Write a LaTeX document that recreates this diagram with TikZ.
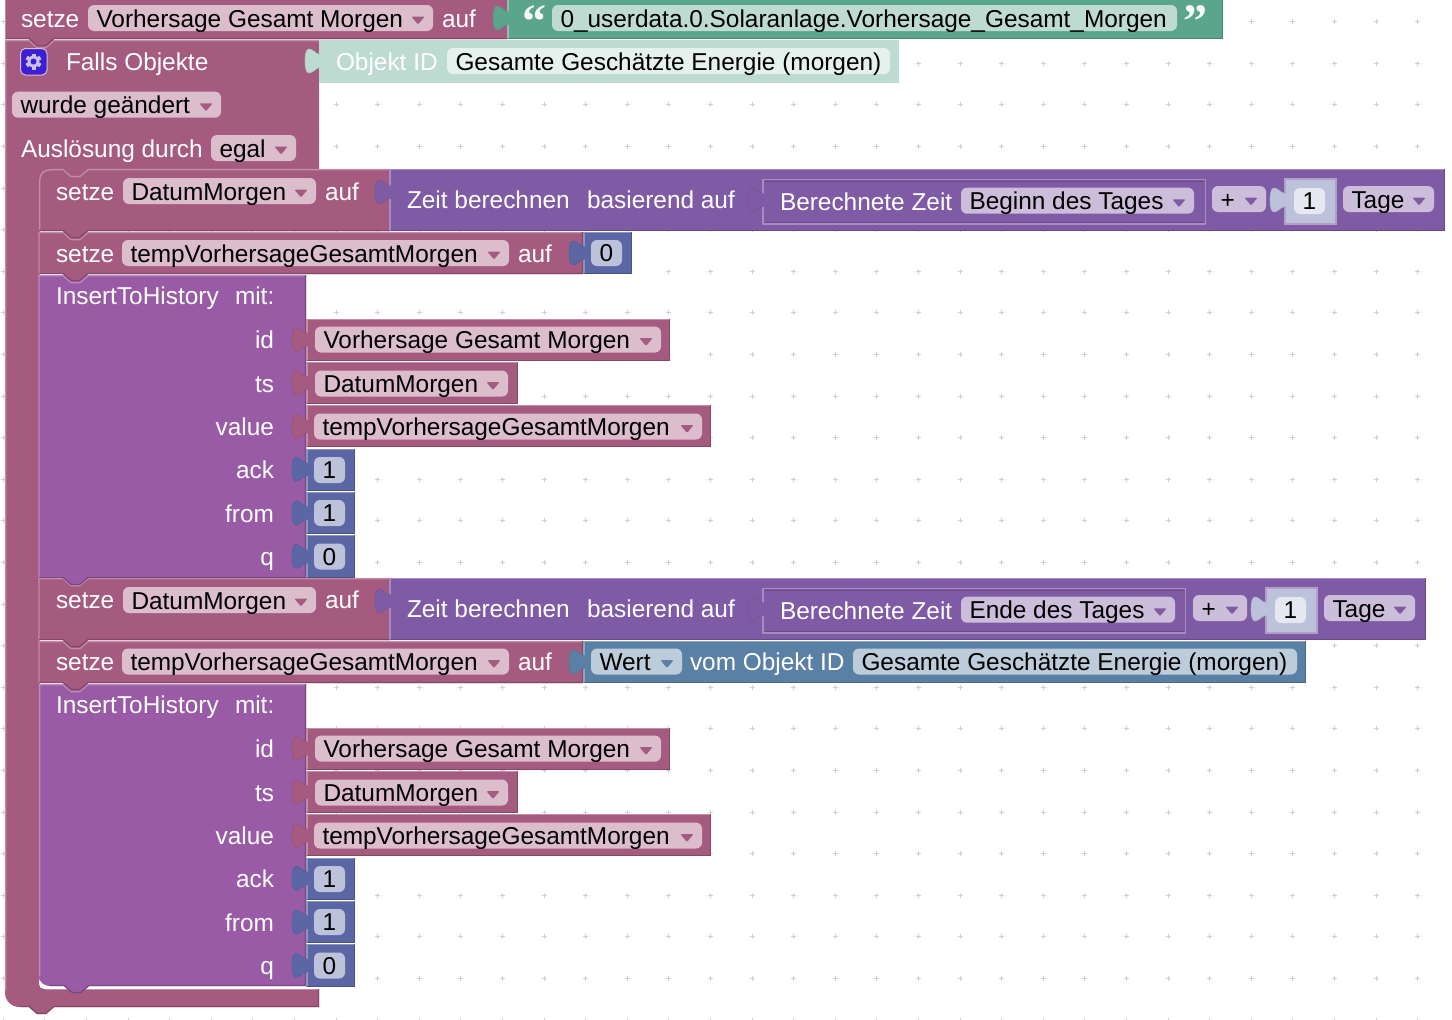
\documentclass[tikz,border=0pt]{standalone}
\usepackage{fontspec}
\setmainfont{Liberation Sans}
\newfontfamily\quotefont{Liberation Serif}
\definecolor{mar}{HTML}{A55B80}\definecolor{marL}{HTML}{DBBDCC}
\definecolor{proc}{HTML}{995BA5}
\definecolor{tim}{HTML}{805BA5}\definecolor{timL}{HTML}{CCBDDB}
\definecolor{num}{HTML}{5B67A5}\definecolor{numL}{HTML}{BDC2DB}\definecolor{numXL}{HTML}{E5E7F1}
\definecolor{strg}{HTML}{5BA58C}\definecolor{strL}{HTML}{BDDBD1}\definecolor{strXL}{HTML}{E5F1ED}
\definecolor{blu}{HTML}{5B80A5}\definecolor{bluL}{HTML}{BDCCDB}
\definecolor{gearblue}{HTML}{3C1FD2}\definecolor{gearlight}{HTML}{C9BFEA}
\definecolor{dotc}{HTML}{CFCFCF}
\newcounter{tc}
\tikzset{
  lab/.style={inner sep=0pt,outer sep=0pt,anchor=base west,font=\fontsize{24.4}{28}\selectfont,text=white},
  labr/.style={lab,anchor=base east},
  fldtxt/.style={lab,text=black},
  numtxt/.style={lab,anchor=base,text=black},
  qmark/.style={inner sep=0pt,anchor=base,font=\quotefont\bfseries\fontsize{48}{48}\selectfont,text=white!85!strL}
}
% text helpers
\newcommand{\lbl}[3]{\stepcounter{tc}\node[lab] (t\arabic{tc}) at ({#1},{#2}) {#3};}
\newcommand{\lblr}[3]{\stepcounter{tc}\node[labr] (t\arabic{tc}) at ({#1},{#2}) {#3};}
% dropdown field: x1,x2,top,text,fieldcolour,trianglecolour
\newcommand{\fld}[6]{\fill[#5,rounded corners=6pt] ({#1},{#3}) rectangle ({#2},{#3+26});
  \fill[#6,rounded corners=1pt] ({#2-21.5},{#3+11.7}) -- ({#2-8.5},{#3+11.7}) -- ({#2-15},{#3+19.5}) -- cycle;
  \stepcounter{tc}\node[fldtxt] (t\arabic{tc}) at ({#1+8.5},{#3+22.2}) {#4};}
% plain field
\newcommand{\fldn}[5]{\fill[#5,rounded corners=6pt] ({#1},{#3}) rectangle ({#2},{#3+26});
  \stepcounter{tc}\node[fldtxt] (t\arabic{tc}) at ({#1+8.5},{#3+22.2}) {#4};}
% number field
\newcommand{\numfld}[4]{\fill[#4,rounded corners=6pt] ({#1},{#2}) rectangle ({#1+31},{#2+26});
  \stepcounter{tc}\node[numtxt] (t\arabic{tc}) at ({#1+15.5},{#2+21.7}) {#3};}
% puzzle tab: x, centre y, colour
\newcommand{\ptab}[3]{\fill[#3] ({#1+1},{#2-6.5}) -- ({#1},{#2-6.5}) .. controls ({#1-4},{#2-6.5}) and ({#1-7},{#2-12}) .. ({#1-11},{#2-12})
   .. controls ({#1-14},{#2-12}) and ({#1-15},{#2-6}) .. ({#1-15},{#2})
   .. controls ({#1-15},{#2+6}) and ({#1-14},{#2+12}) .. ({#1-11},{#2+12})
   .. controls ({#1-7},{#2+12}) and ({#1-4},{#2+6.5}) .. ({#1},{#2+6.5}) -- ({#1+1},{#2+6.5}) -- cycle;
  \draw[#3!92!black,line width=.6pt] ({#1},{#2-6.5}) .. controls ({#1-4},{#2-6.5}) and ({#1-7},{#2-12}) .. ({#1-11},{#2-12})
   .. controls ({#1-14},{#2-12}) and ({#1-15},{#2-6}) .. ({#1-15},{#2})
   .. controls ({#1-15},{#2+6}) and ({#1-14},{#2+12}) .. ({#1-11},{#2+12})
   .. controls ({#1-7},{#2+12}) and ({#1-4},{#2+6.5}) .. ({#1},{#2+6.5});}
% value block: x1,y1,x2,y2,colour
\newcommand{\valb}[5]{\fill[#5] ({#1},{#2}) rectangle ({#3},{#4});
  \draw[#5!70!white,line width=1.4pt] ({#1},{#4}) -- ({#1},{#2+.7}) -- ({#3},{#2+.7});
  \draw[#5!80!black,line width=1.4pt] ({#1},{#4-.7}) -- ({#3-.7},{#4-.7}) -- ({#3-.7},{#2});}
% statement fill and edges: x1,y1,x2,y2,colour
\newcommand{\stfill}[5]{\fill[#5] ({#1},{#2}) -- ({#3},{#2}) -- ({#3},{#4}) -- ({#1+49},{#4}) -- ({#1+41},{#4+7}) -- ({#1+32},{#4+7}) -- ({#1+24},{#4}) -- ({#1},{#4}) -- cycle;}
\newcommand{\stedge}[5]{\draw[#5!70!white,line width=1.3pt] ({#1},{#4}) -- ({#1},{#2+.6}) -- ({#1+24},{#2+.6}) -- ({#1+32},{#2+7.6}) -- ({#1+41},{#2+7.6}) -- ({#1+49},{#2+.6}) -- ({#3},{#2+.6});
  \draw[#5!80!black,line width=1.3pt] ({#1+24},{#4-.6}) -- ({#1},{#4-.6});
  \draw[#5!80!black,line width=1.3pt] ({#3-.6},{#2}) -- ({#3-.6},{#4-.6}) -- ({#1+49},{#4-.6}) -- ({#1+41},{#4+6.4}) -- ({#1+32},{#4+6.4}) -- ({#1+24},{#4-.6});}
% InsertToHistory fields and inputs, dy
\newcommand{\inserts}[1]{
  \lbl{56}{#1+304.8}{InsertToHistory}\lbl{235}{#1+304.8}{mit:}
  \lblr{274}{#1+348.5}{id}\lblr{274}{#1+392}{ts}\lblr{274}{#1+435.5}{value}
  \lblr{274}{#1+478.5}{ack}\lblr{274}{#1+522}{from}\lblr{274}{#1+565.5}{q}
  \valb{307}{#1+319}{670}{#1+361}{mar}\ptab{307}{#1+339.5}{mar}\fld{315}{661}{#1+326.5}{Vorhersage Gesamt Morgen}{marL}{mar}
  \valb{307}{#1+362}{518}{#1+404}{mar}\ptab{307}{#1+383}{mar}\fld{315}{508}{#1+370.5}{DatumMorgen}{marL}{mar}
  \valb{307}{#1+405}{711}{#1+447}{mar}\ptab{307}{#1+426.5}{mar}\fld{314}{702}{#1+413.5}{tempVorhersageGesamtMorgen}{marL}{mar}
  \valb{307}{#1+449}{355}{#1+491}{num}\ptab{307}{#1+469.3}{num}\numfld{314}{#1+457}{1}{numL}
  \valb{307}{#1+492}{355}{#1+534}{num}\ptab{307}{#1+513}{num}\numfld{314}{#1+500}{1}{numL}
  \valb{307}{#1+535}{355}{#1+578}{num}\ptab{307}{#1+556.5}{num}\numfld{314}{#1+543.5}{0}{numL}
}
% Zeit berechnen block: dy, x end, inner end, field end, text, plus left, one left, tage left
\newcommand{\zeit}[8]{
  \valb{390}{#1+169}{#2}{#1+231}{tim}\ptab{390}{#1+192}{tim}
  \lbl{407}{#1+208}{Zeit berechnen}\lbl{587}{#1+208}{basierend auf}
  \fill[tim] (763,{#1+179}) rectangle ({#3},{#1+224});
  \draw[tim!70!white,line width=1.3pt] (763,{#1+224}) -- (763,{#1+179.6}) -- ({#3-.6},{#1+179.6}) -- ({#3-.6},{#1+224}) -- cycle;
  \draw[tim!80!black,line width=1pt] (764.5,{#1+181}) -- ({#3-2},{#1+181}) (764.5,{#1+222.5}) -- ({#3-2},{#1+222.5});
  \ptab{763}{#1+200}{tim}
  \lbl{780}{#1+210}{Berechnete Zeit}
  \fld{961}{#4}{#1+187.7}{#5}{timL}{tim}
  \fld{#6}{#6+54}{#1+186}{+}{timL}{tim}
  \fill[numL] ({#7},{#1+179}) rectangle ({#7+51},{#1+224});
  \draw[tim!60!white,line width=1.2pt] ({#7},{#1+179}) rectangle ({#7+51},{#1+224});
  \ptab{#7}{#1+200}{numL}
  \numfld{#7+9}{#1+188}{1}{numXL}
  \fld{#8}{#8+91}{#1+186}{Tage}{timL}{tim}
}
\begin{document}
\begin{tikzpicture}[x=1pt,y=-1pt]
\useasboundingbox (0,0) rectangle (1452,1020);
% workspace grid
\foreach \i in {0,...,34}{\foreach \j in {0,...,24}{
  \draw[dotc,line width=1pt] ({3.2+41.6*\i-2.5},{21.7+41.6*\j}) -- ({3.2+41.6*\i+2.5},{21.7+41.6*\j})
    ({3.2+41.6*\i},{21.7+41.6*\j-2.5}) -- ({3.2+41.6*\i},{21.7+41.6*\j+2.5});}}
% warning dot
\fill[yellow!90!orange,draw=black!35,line width=.8pt] (42,-4) circle (7);
% event block body
\fill[mar] (5,40) -- (319,40) -- (319,169) -- (39,169) -- (39,984) .. controls (39,987) and (41,989) .. (44,989) -- (319,989) -- (319,1007)
  -- (54,1007) -- (46,1014) -- (37,1014) -- (29,1007) -- (20,1007) .. controls (11,1007) and (5,1001) .. (5,992) -- cycle;
\draw[mar!70!white,line width=1.3pt] (5.6,990) -- (5.6,40.6) -- (29,40.6) -- (37,47.6) -- (46,47.6) -- (54,40.6) -- (319,40.6);
\draw[mar!70!white,line width=1.3pt] (39.6,980) -- (39.6,179) (45,989.6) -- (319,989.6);
\draw[mar!80!black,line width=1.3pt] (318.4,989) -- (318.4,1006.4) -- (54,1006.4) -- (46,1013.4) -- (37,1013.4) -- (29,1006.4) -- (20,1006.4);
% top set block
\fill[mar] (5,-6) -- (508,-6) -- (508,39) -- (54,39) -- (46,46) -- (37,46) -- (29,39) -- (5,39) -- cycle;
\draw[mar!80!black,line width=1.3pt] (508,38.4) -- (54,38.4) -- (46,45.4) -- (37,45.4) -- (29,38.4) -- (5,38.4);
\draw[mar!70!white,line width=1.3pt] (5.6,-1) -- (5.6,39);
% inner statement stack: lower blocks first so each tab lies over the next notch
\fill[proc] (39,684) -- (306,684) -- (306,986) -- (89,986) -- (81,993) -- (72,993) -- (64,986) -- (50,986) .. controls (44,986) and (39,982) .. (39,976) -- cycle;
\stfill{39}{641}{583}{683}{mar}
\stfill{39}{578}{390}{640}{mar}
\stfill{39}{275}{306}{578}{proc}
\stfill{39}{232}{583}{274}{mar}
\stfill{39}{169}{390}{231}{mar}
% edges
\draw[proc!70!white,line width=1.3pt] (39.6,976) -- (39.6,684.6) -- (63,684.6) -- (71,691.6) -- (80,691.6) -- (88,684.6) -- (306,684.6);
\draw[proc!80!black,line width=1.3pt] (305.4,684) -- (305.4,985.4) -- (89,985.4) -- (81,992.4) -- (72,992.4) -- (64,985.4) -- (50,985.4);
\stedge{39}{641}{583}{683}{mar}
\stedge{39}{578}{390}{640}{mar}
\stedge{39}{275}{306}{578}{proc}
\stedge{39}{232}{583}{274}{mar}
\draw[mar!70!white,line width=1.3pt] (39.6,231) -- (39.6,181) .. controls (39.6,174) and (44,169.6) .. (51,169.6) -- (63,169.6) -- (71,176.6) -- (80,176.6) -- (88,169.6) -- (390,169.6);
\draw[mar!80!black,line width=1.3pt] (389.4,169) -- (389.4,230.4) -- (88,230.4) -- (80,237.4) -- (71,237.4) -- (63,230.4) -- (39,230.4);
% top row
\valb{508}{-6}{1223}{39}{strg}\ptab{508}{18}{strg}
\lbl{21}{27.2}{setze}\fld{88}{433}{5}{Vorhersage Gesamt Morgen}{marL}{mar}\lbl{442}{27.2}{auf}
\stepcounter{tc}\node[qmark] (t\arabic{tc}) at (534,37) {“};
\fldn{552}{1177}{5}{0\_userdata.0.Solaranlage.Vorhersage\_Gesamt\_Morgen}{strL}
\stepcounter{tc}\node[qmark] (t\arabic{tc}) at (1195,37) {”};
% event rows
\fill[strL] (319,40) rectangle (899,83);\ptab{320}{61}{strL}
\fill[gearblue,draw=marL,line width=1pt,rounded corners=5pt] (20.5,48.5) rectangle (47,75);
\foreach \a in {0,60,120}{\fill[gearlight,rotate around={\a:(33.5,61.5)}] (31.5,53.5) rectangle (35.5,69.5);}
\fill[gearlight] (33.5,61.5) circle (6);
\fill[gearblue] (33.5,61.5) circle (3);
\lbl{66}{70}{Falls Objekte}
\lbl{336}{70}{Objekt ID}
\fldn{447}{890}{48}{Gesamte Geschätzte Energie (morgen)}{strXL}
\fld{12}{221}{91.7}{wurde geändert}{marL}{mar}
\lbl{21}{157.5}{Auslösung durch}\fld{211}{296}{135}{egal}{marL}{mar}
% first group
\lbl{56}{200.3}{setze}\fld{123}{316}{178}{DatumMorgen}{marL}{mar}\lbl{325}{200.3}{auf}
\zeit{0}{1445}{1206}{1194}{Beginn des Tages}{1212}{1285}{1343}
\lbl{56}{262.3}{setze}\fld{122}{509}{240}{tempVorhersageGesamtMorgen}{marL}{mar}\lbl{518}{262.3}{auf}
\valb{584}{232}{632}{274}{num}\ptab{584}{253}{num}\numfld{591}{240}{0}{numL}
\inserts{0}
% second group
\lbl{56}{608.3}{setze}\fld{123}{316}{587}{DatumMorgen}{marL}{mar}\lbl{325}{608.3}{auf}
\zeit{409}{1426}{1186}{1175}{Ende des Tages}{1193}{1266}{1324}
\lbl{56}{670.5}{setze}\fld{122}{509}{648.5}{tempVorhersageGesamtMorgen}{marL}{mar}\lbl{518}{670.5}{auf}
\valb{584}{641}{1306}{683}{blu}\ptab{584}{662}{blu}
\fld{591}{682}{648.5}{Wert}{bluL}{blu}\lbl{690}{670.5}{vom Objekt ID}
\fldn{853}{1297}{648.5}{Gesamte Geschätzte Energie (morgen)}{bluL}
\inserts{409}
\end{tikzpicture}
\end{document}
